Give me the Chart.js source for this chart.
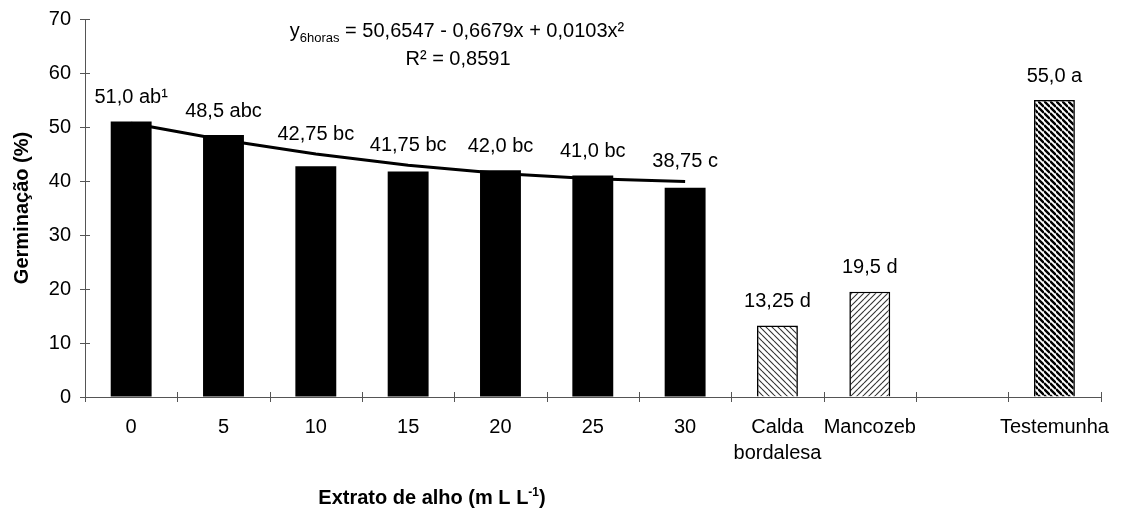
<!DOCTYPE html>
<html>
<head>
<meta charset="utf-8">
<script src="https://cdn.jsdelivr.net/npm/chart.js@4/dist/chart.umd.min.js"></script>
<style>
  html, body { margin: 0; background: #fff; overflow: hidden; }
  #wrap { width: 1127px; height: 518px; margin-top: -7px; }
</style>
</head>
<body>
<div id="wrap"><canvas id="myChart"></canvas></div>
<script>
// dados do grafico
const categorias = ['0', '5', '10', '15', '20', '25', '30', ['Calda', 'bordalesa'], 'Mancozeb', '', 'Testemunha'];
const germinacao = [51.0, 48.5, 42.75, 41.75, 42.0, 41.0, 38.75, 13.25, 19.5, null, 55.0];
const rotulos = ['51,0 ab¹', '48,5 abc', '42,75 bc', '41,75 bc', '42,0 bc', '41,0 bc', '38,75 c', '13,25 d', '19,5 d', '', '55,0 a'];
// curva de regressao (0 a 30 mL/L)
const tendencia = [50.7, 47.6, 45.0, 42.9, 41.4, 40.4, 39.9, null, null, null, null];
const yTicks = [0, 10, 20, 30, 40, 50, 60, 70];

const FONTE = '"Liberation Sans", Arial, sans-serif';

//hachuras
function hachura(dir, cor, lw, size){
  const c = document.createElement('canvas');
  c.width = size; c.height = size;
  const g = c.getContext('2d');
  g.fillStyle = '#fff';
  g.fillRect(0, 0, size, size);
  g.strokeStyle = cor;
  g.lineWidth = lw;
  g.beginPath();
  for (let k = -1; k <= 2; k++) {
    if (dir == '\\') { g.moveTo(0, k * size); g.lineTo(size, k * size + size); }
    else { g.moveTo(0, k * size); g.lineTo(size, k * size - size); }
  }
  g.stroke();
  return g.createPattern(c, 'repeat');
}
const calda = hachura('\\', '#333', 1.1, 6);
const manco = hachura('/', '#333', 1.1, 6);
const teste = hachura('\\', '#000', 2.4, 6);

const cores = ['#000', '#000', '#000', '#000', '#000', '#000', '#000', calda, manco, '#000', teste];
const bordas = [0, 0, 0, 0, 0, 0, 0, 1.6, 1.6, 0, 1.6];

// rotulos acima das barras
const rotulosPlugin = {
  id: 'rotulos',
  afterDatasetsDraw(chart){
    const {ctx, scales: {x, y}} = chart;
    ctx.save();
    ctx.font = '20px ' + FONTE;
    ctx.fillStyle = '#000';
    ctx.textAlign = 'center';
    ctx.textBaseline = 'middle';
    germinacao.forEach((v, i) => {
      if (v == null) return;
      let py = y.getPixelForValue(v) - 24;
      if (tendencia[i] != null) py = Math.min(py, y.getPixelForValue(tendencia[i]) - 20);
      ctx.fillText(rotulos[i], x.getPixelForValue(i), py);
    });
    ctx.restore();
  }
};

// marcas dos eixos (cruzando a linha) + equacao + titulo do eixo x
const extrasPlugin = {
  id: 'extras',
  afterDraw(chart){
    const {ctx, chartArea: a, scales: {x, y}} = chart;
    ctx.save();
    ctx.strokeStyle = '#555';
    ctx.lineWidth = 1;
    ctx.beginPath();
    yTicks.forEach(t => {
      const py = Math.round(y.getPixelForValue(t)) + 0.5;
      ctx.moveTo(a.left - 5, py); ctx.lineTo(a.left + 5, py);
    });
    const n = categorias.length;
    for (let i = 0; i <= n; i++) {
      const px = Math.round(a.left + i * (a.right - a.left) / n) + 0.5;
      ctx.moveTo(px, a.bottom - 5); ctx.lineTo(px, a.bottom + 5);
    }
    ctx.stroke();

    ctx.fillStyle = '#000';
    ctx.textBaseline = 'alphabetic';
    ctx.textAlign = 'left';
    // equacao
    const partes = [
      ['y', '20px ' + FONTE, 0],
      ['6horas', '13px ' + FONTE, 5],
      [' = 50,6547 - 0,6679x + 0,0103x²', '20px ' + FONTE, 0]
    ];
    let w = 0;
    partes.forEach(p => { ctx.font = p[1]; w += ctx.measureText(p[0]).width; });
    let px = 457 - w / 2;
    partes.forEach(p => { ctx.font = p[1]; ctx.fillText(p[0], px, a.top + 18 + p[2]); px += ctx.measureText(p[0]).width; });
    ctx.textAlign = 'center';
    ctx.font = '20px ' + FONTE;
    ctx.fillText('R² = 0,8591', 458, a.top + 46);

    // titulo eixo x
    const tx = [
      ['Extrato de alho (m L L', 'bold 20px ' + FONTE, 0],
      ['-1', 'bold 12px ' + FONTE, -8],
      [')', 'bold 20px ' + FONTE, 0]
    ];
    ctx.textAlign = 'left';
    w = 0;
    tx.forEach(p => { ctx.font = p[1]; w += ctx.measureText(p[0]).width; });
    px = 432 - w / 2;
    tx.forEach(p => { ctx.font = p[1]; ctx.fillText(p[0], px, a.bottom + 107 + p[2]); px += ctx.measureText(p[0]).width; });
    ctx.restore();
  }
};

var ctx = document.getElementById('myChart');
var chart = new Chart(ctx, {
  type: 'bar',
  data: {
    labels: categorias,
    datasets: [{
      type: 'line',
      label: 'Regressão',
      data: tendencia,
      borderColor: '#000',
      borderWidth: 3,
      pointRadius: 0,
      tension: 0,
      spanGaps: false,
      order: 0
    },
    {
      label: 'Germinação',
      data: germinacao,
      backgroundColor: cores,
      borderColor: '#000',
      borderWidth: bordas,
      categoryPercentage: 1,
      barPercentage: 0.443,
      order: 1
    }]
  },
  options: {
    responsive: true,
    maintainAspectRatio: false,
    animation: false,
    layout: { padding: { left: 0, right: 24, top: 0, bottom: 0 } },
    plugins: { legend: { display: false }, tooltip: { enabled: false } },
    scales: {
      x: {
        grid: { display: true, drawOnChartArea: false, drawTicks: false },
        border: { display: true, color: '#555' },
        ticks: { color: '#000', font: { family: FONTE, size: 20, lineHeight: 1.3 }, padding: 17, maxRotation: 0, autoSkip: false },
        afterFit: s => { s.height = 114; }
      },
      y: {
        min: 0, max: 70,
        grid: { display: true, drawOnChartArea: false, drawTicks: false },
        border: { display: true, color: '#555' },
        ticks: { stepSize: 10, color: '#000', font: { family: FONTE, size: 20 }, padding: 14 },
        title: { display: true, text: 'Germinação (%)', color: '#000', font: { family: FONTE, size: 20, weight: 'bold' }, padding: { top: 10, bottom: 0 } },
        afterFit: s => { s.width = 85; }
      }
    }
  },
  plugins: [rotulosPlugin, extrasPlugin]
});
</script>
</body>
</html>
